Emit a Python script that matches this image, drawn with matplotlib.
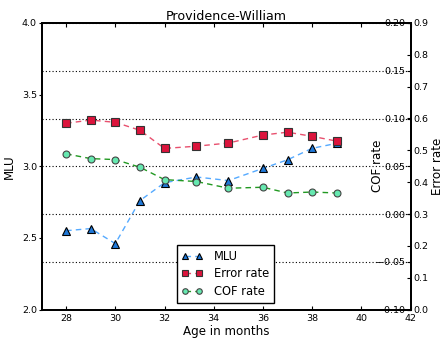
import numpy as np
import matplotlib
matplotlib.use('Agg')
import matplotlib.pyplot as plt

# data
age = [28, 29, 30, 31, 32, 33.3, 34.6, 36, 37, 38, 39]
mlu = [2.55, 2.565, 2.46, 2.76, 2.885, 2.925, 2.90, 2.985, 3.045, 3.125, 3.16]
err_rate = [0.585, 0.595, 0.588, 0.563, 0.506, 0.513, 0.523, 0.548, 0.557, 0.544, 0.529]
cof_rate = [0.063, 0.058, 0.057, 0.049, 0.036, 0.034, 0.027, 0.028, 0.022, 0.023, 0.022]

plt.rcParams['font.family'] = 'DejaVu Sans'
fs_tick = 6.8
fs_label = 8.6

fig = plt.figure(figsize=(4.44, 3.43), dpi=100)
ax = fig.add_axes([41.5/444, 1 - 309.5/343, 369/444, 286.5/343])
ax2 = ax.twinx()   # COF rate
ax3 = ax.twinx()   # Error rate

dash = (0, (4, 3))
l1, = ax.plot(age, mlu, linestyle=dash, color='#55aaff', lw=1,
              marker='^', ms=5.5, mfc='#1f78d8', mec='k', mew=0.8, label='MLU')
l3, = ax2.plot(age, cof_rate, linestyle=dash, color='#229922', lw=1,
               marker='o', ms=5, mfc='#66e8b0', mec='#444444', mew=0.8, label='COF rate')
l2, = ax3.plot(age, err_rate, linestyle=dash, color='#e8506e', lw=1,
               marker='s', ms=5.5, mfc='#dc143c', mec='#333333', mew=0.8, label='Error rate')

ax.set_xlim(27, 42)
ax.set_ylim(2.0, 4.0)
ax.set_yticks([2.0, 2.5, 3.0, 3.5, 4.0])
ax.set_xticks([28, 30, 32, 34, 36, 38, 40, 42])
ax.tick_params(axis='x', direction='in', length=3, width=0.8, labelsize=fs_tick, pad=3.5, top=True)
ax.tick_params(axis='y', direction='out', length=2.5, width=0.8, labelsize=fs_tick, pad=0.8, right=False)
ax.set_xlabel('Age in months', fontsize=fs_label, labelpad=1.5)
ax.set_ylabel('MLU', fontsize=fs_label, labelpad=4)
ax.set_title('Providence-William', fontsize=9.1, pad=2.5)

ax2.set_ylim(-0.10, 0.20)
ax2.set_yticks([-0.10, -0.05, 0.00, 0.05, 0.10, 0.15, 0.20])
ax2.tick_params(axis='y', direction='in', length=3, width=0.8, labelsize=fs_tick, pad=-4)
for t in ax2.get_yticklabels():
    t.set_horizontalalignment('right')
ax2.grid(True, axis='y', linestyle=(0, (1, 2)), color='k', lw=0.8)
ax2.set_ylabel('COF rate', fontsize=fs_label)
ax2.yaxis.set_label_coords(0.893, 0.5)

ax3.set_ylim(0.0, 0.9)
ax3.set_yticks(np.arange(0, 0.91, 0.1))
ax3.tick_params(axis='y', direction='in', length=3, width=0.8, labelsize=fs_tick, pad=2)
ax3.set_ylabel('Error rate', fontsize=fs_label)
ax3.yaxis.set_label_coords(1.055, 0.5)

for a in (ax, ax2, ax3):
    for s in a.spines.values():
        s.set_linewidth(1.2)

leg = ax3.legend([l1, l2, l3], ['MLU', 'Error rate', 'COF rate'], loc='lower left',
                 bbox_to_anchor=(0.367, 0.024), borderaxespad=0, fontsize=8.3,
                 fancybox=False, edgecolor='k', framealpha=1, numpoints=2,
                 handlelength=1.8, handletextpad=1.0, labelspacing=0.4,
                 markerscale=0.8)
leg.get_frame().set_linewidth(1.0)

fig.savefig('out.png', dpi=100)
